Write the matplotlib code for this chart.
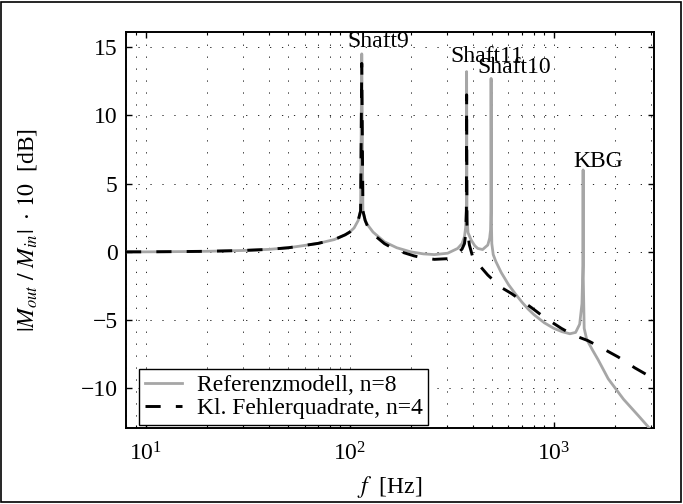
import matplotlib
matplotlib.use("Agg")
import matplotlib.pyplot as plt
from matplotlib.patches import Rectangle
from matplotlib.ticker import LogLocator, NullFormatter, MultipleLocator

plt.rcParams.update({
    "font.family": ["Liberation Serif", "DejaVu Serif"],
    "mathtext.fontset": "stix",
    "font.size": 17,
})

# Referenzmodell, n=8
f_ref = [8, 10, 15, 20, 30, 40, 50, 57, 70, 84, 95, 100, 105, 110, 113, 114.5, 116,
         119, 122, 130, 148, 170, 199, 230, 260, 302, 338, 355, 365, 370, 373, 374,
         375.5, 380, 394, 410, 424, 448, 475, 485, 490, 492, 493, 494.5, 497, 505,
         520, 552, 600, 650, 700, 750, 800, 900, 1000, 1100, 1200, 1280, 1340, 1375,
         1390, 1393, 1396, 1410, 1450, 1550, 1650, 1850, 2200, 2600, 2900, 3100]
mag_ref = [0.0, 0.0, 0.02, 0.04, 0.1, 0.18, 0.3, 0.42, 0.62, 0.9, 1.25, 1.45, 1.75, 2.3,
           3.0, 14.5, 3.0, 2.3, 2.0, 1.45, 0.73, 0.3, 0.0, -0.15, -0.2, -0.1, 0.25, 0.6,
           1.1, 1.8, 3.0, 13.2, 2.5, 1.4, 0.86, 0.45, 0.25, 0.17, 0.5, 1.0, 1.6, 3.0,
           12.7, 2.5, 0.6, -0.2, -0.7, -1.5, -2.4, -3.1, -3.7, -4.2, -4.6, -5.2, -5.6,
           -5.85, -6.0, -5.9, -5.3, -3.8, -1.0, 6.0, -2.0, -5.6, -6.4, -7.2, -7.9,
           -9.3, -10.8, -12.0, -12.8, -13.4]

# Kl. Fehlerquadrate, n=4
f_lsq = [8, 10, 15, 20, 30, 40, 50, 57, 70, 84, 95, 100, 105, 110, 113, 114.5, 116,
         119, 122, 130, 148, 170, 207, 230, 260, 302, 338, 355, 365, 370, 373, 374,
         375.5, 380, 386, 401, 424, 475, 552, 620, 700, 780, 900, 1089, 1250, 1470,
         1700, 2070, 2500, 3100]
mag_lsq = [0.0, 0.0, 0.02, 0.04, 0.1, 0.18, 0.3, 0.42, 0.62, 0.9, 1.25, 1.45, 1.75, 2.3,
           3.0, 13.8, 3.0, 2.3, 1.9, 1.3, 0.6, 0.1, -0.3, -0.45, -0.55, -0.5, -0.12, 0.2,
           0.6, 1.3, 3.0, 11.5, 2.0, 1.2, 0.5, -0.4, -0.85, -1.7, -2.6, -3.05, -3.6,
           -4.1, -4.8, -5.6, -6.1, -6.5, -7.0, -7.7, -8.5, -9.3]

# peak labels: text, left x, baseline y
peak_names = ["Shaft9", "Shaft11", "Shaft10", "KBG"]
peak_x = [97.5, 312, 423, 1243]
peak_y = [15.0, 13.9, 13.07, 6.22]

fig = plt.figure(figsize=(6.83, 5.04), dpi=100)
ax = fig.add_axes([0.1845, 0.1508, 0.773, 0.7857])

ax.plot(f_ref, mag_ref, color="#a6a6a6", lw=2.0, label="Referenzmodell, n=8", zorder=3)
ax.plot(f_lsq, mag_lsq, color="black", lw=2.1, linestyle=(0, (5.2, 5.2)),
        label="Kl. Fehlerquadrate, n=4", zorder=4)

ax.set_xscale("log")
ax.set_xlim(8, 3100)
ax.set_ylim(-12.9, 16.1)
ax.yaxis.set_major_locator(MultipleLocator(5))
ax.xaxis.set_major_locator(LogLocator(base=10))
ax.xaxis.set_minor_locator(LogLocator(base=10, subs=range(2, 10)))
ax.xaxis.set_minor_formatter(NullFormatter())

dots = (0, (1.3, 11))
ax.grid(True, which="major", axis="both", color="0.15", lw=0.7, linestyle=dots)
ax.grid(True, which="minor", axis="x", color="0.15", lw=0.7, linestyle=dots)

ax.tick_params(which="major", direction="in", length=4.5, width=1.0,
               top=True, right=True)
ax.tick_params(which="minor", direction="in", length=2.5, width=0.8,
               top=True, right=True)
ax.tick_params(axis="x", which="major", pad=10)
ax.tick_params(axis="y", which="major", pad=6)
for s in ax.spines.values():
    s.set_linewidth(1.4)

for name, x, y in zip(peak_names, peak_x, peak_y):
    ax.text(x, y, name, ha="left", va="baseline", zorder=5)

ax.set_xlabel(r"$f$  [Hz]", va="top")
ax.xaxis.set_label_coords(0.5, -0.115)
ax.set_ylabel(r"$|M_{out}\ /\ M_{in}|\ \cdot\,10$  [dB]")
ax.yaxis.set_label_coords(-0.165, 0.5)

leg = ax.legend(loc="lower left", bbox_to_anchor=(0.024, 0.008), borderaxespad=0,
                fancybox=False, framealpha=1, edgecolor="black",
                handlelength=1.6, handletextpad=0.6, labelspacing=0.05,
                borderpad=0.25, fontsize=17)
leg.get_frame().set_linewidth(1.0)
leg.set_zorder(6)

fig.patches.append(Rectangle((0.002, 0.003), 0.995, 0.994, transform=fig.transFigure,
                             fill=False, edgecolor="black", lw=1.2))

fig.savefig("out.png", dpi=100)
